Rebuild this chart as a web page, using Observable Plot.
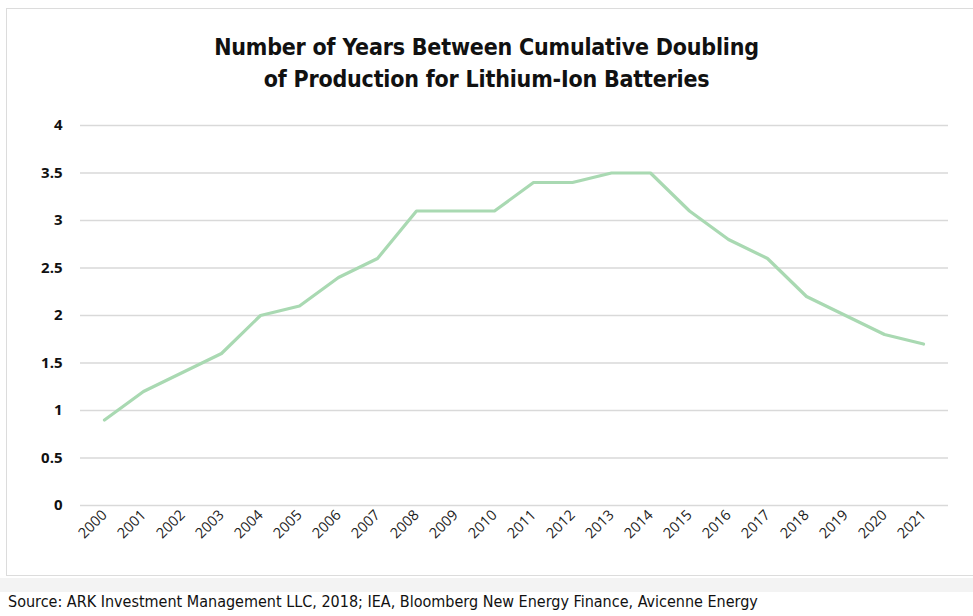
<!DOCTYPE html>
<html><head><meta charset="utf-8">
<script src="https://cdn.jsdelivr.net/npm/d3@7"></script>
<script src="https://cdn.jsdelivr.net/npm/@observablehq/plot@0.6"></script>
<style>
html,body{margin:0;padding:0;background:#fff;}
#wrap{position:relative;width:973px;height:616px;overflow:hidden;font-family:"Open Sans",sans-serif;}
#frame{position:absolute;left:6px;top:8px;width:980px;height:568px;border:1.5px solid #dcdcdc;box-sizing:border-box;}
#band{position:absolute;left:0;top:578px;width:973px;height:14px;background:#f3f3f3;}
#title{position:absolute;left:0;width:973px;top:31px;text-align:center;font-family:"DejaVu Sans Condensed","DejaVu Sans",sans-serif;font-weight:bold;font-size:23px;line-height:32px;color:#111;letter-spacing:-0.2px;}
#chart{position:absolute;left:0;top:0;}
#source{position:absolute;left:8px;top:592px;font-family:"DejaVu Sans Condensed","DejaVu Sans",sans-serif;font-size:16px;color:#111;}
</style></head>
<body><div id="wrap">
<div id="frame"></div>
<div id="band"></div>
<div id="chart"></div>
<div id="title">Number of Years Between Cumulative Doubling<br>of Production for Lithium-Ion Batteries</div>
<div id="source">Source: ARK Investment Management LLC, 2018; IEA, Bloomberg New Energy Finance, Avicenne Energy</div>
</div>
<script>
const years = ["2000","2001","2002","2003","2004","2005","2006","2007","2008","2009","2010","2011","2012","2013","2014","2015","2016","2017","2018","2019","2020","2021"];
const values = [0.9,1.2,1.4,1.6,2.0,2.1,2.4,2.6,3.1,3.1,3.1,3.4,3.4,3.5,3.5,3.1,2.8,2.6,2.2,2.0,1.8,1.7];
const yTicks = [0,0.5,1,1.5,2,2.5,3,3.5,4];

const data = years.map((y,i)=>({year:y,value:values[i]}));

const chart = Plot.plot({
  width: 973,
  height: 580,
  marginLeft: 80,
  marginRight: 25,
  marginTop: 125,
  marginBottom: 75,
  style: {background:"transparent", fontFamily:"'Open Sans',sans-serif", overflow:"visible"},
  x: {type:"point", domain: years, padding:0, insetLeft:18, insetRight:20},
  y: {domain:[0,4]},
  marks: [
    Plot.ruleY(yTicks, {stroke:"#d9d9d9", strokeWidth:1.5}),
    Plot.axisY({ticks: yTicks, tickSize:0, tickPadding:18, tickFormat: d=>String(d), fontSize:15, fontWeight:"bold", fill:"#111", label:null}),
    Plot.axisX({tickSize:0, tickPadding:7, tickRotate:-45, fontSize:14.5, fill:"#222", label:null}),
    Plot.line(data, {x:"year", y:"value", stroke:"#a9d9b2", strokeWidth:3.2, strokeLinejoin:"round"})
  ]
});
document.getElementById("chart").appendChild(chart);
</script>
</body></html>
